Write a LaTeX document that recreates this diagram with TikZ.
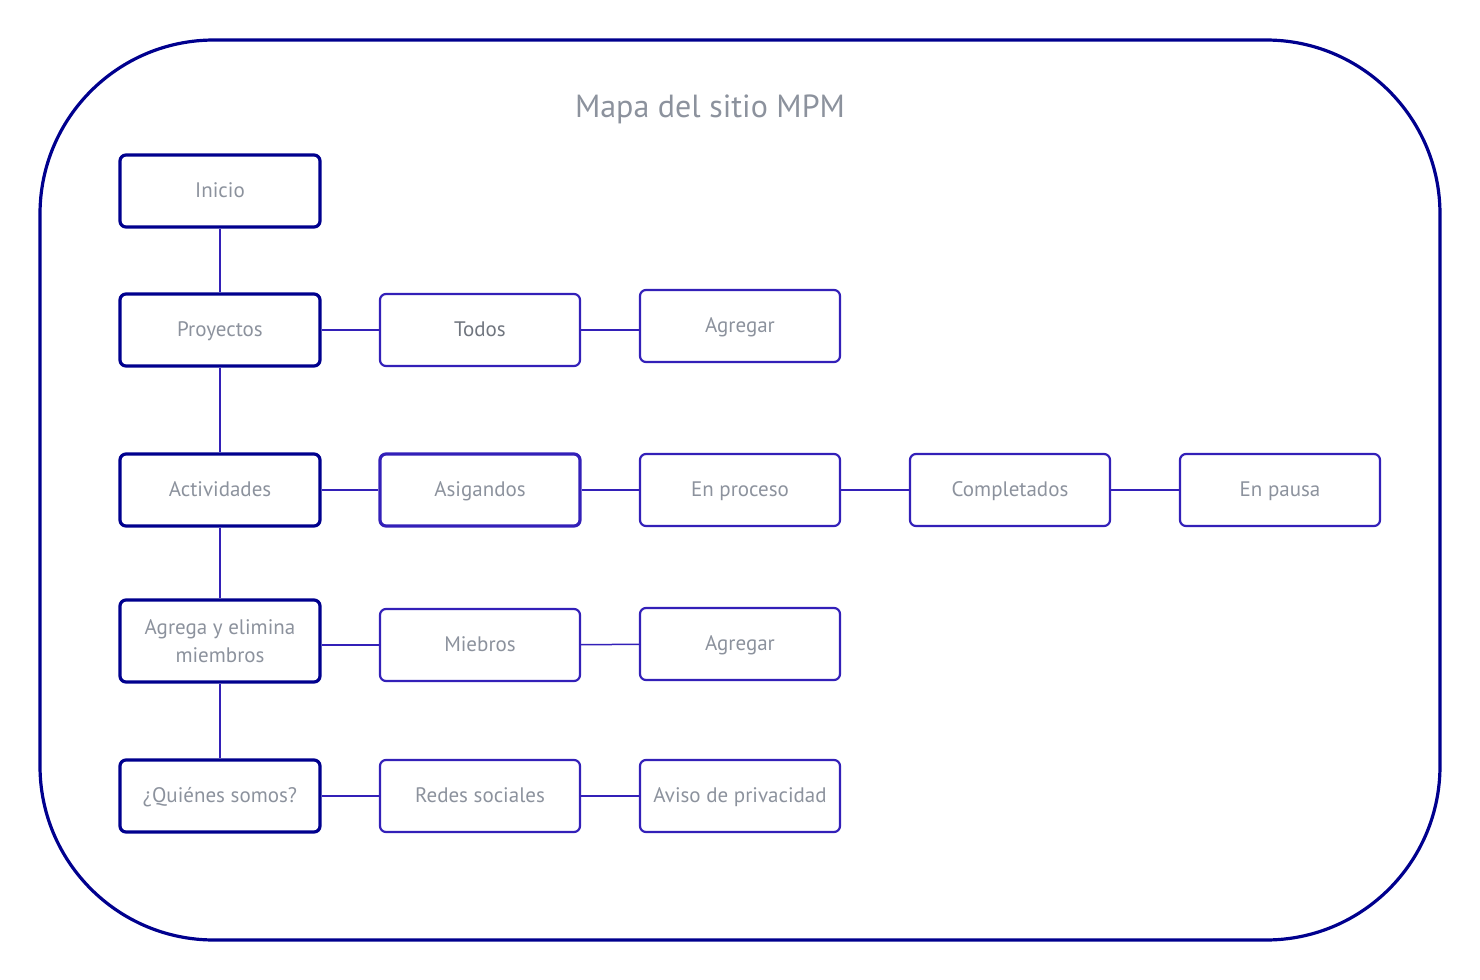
\documentclass[tikz,border=0pt]{standalone}
\usepackage{fontspec}
\setmainfont{PT Sans}
\usepackage{xcolor}
\definecolor{navy}{HTML}{00008E}
\definecolor{indigo}{HTML}{3320B8}
\definecolor{txtgray}{HTML}{8C929D}

\begin{document}
\begin{tikzpicture}[x=0.5pt,y=-0.5pt,
	mainbox/.style={draw=navy, line width=1.6pt, rounded corners=3pt, minimum width=100pt, minimum height=36pt, inner sep=2pt, text=txtgray, align=center, text height=1.6ex, text depth=.3ex, font=\fontsize{10.5}{14}\selectfont},
	subbox/.style={mainbox, draw=indigo, line width=1.1pt},
	link/.style={draw=indigo, line width=0.75pt}]
	\useasboundingbox (0,0) rectangle (1480,980);
	\draw[navy, line width=1.6pt, rounded corners=87pt] (40,40) rectangle (1440,940);
	\node[text=txtgray, font=\fontsize{16}{18}\selectfont] (title) at (710,109) {Mapa del sitio MPM};
	% main column
	\node[mainbox] (inicio) at (220,191) {Inicio};
	\node[mainbox] (proy) at (220,330) {Proyectos};
	\node[mainbox] (activ) at (220,490) {Actividades};
	\node[mainbox, minimum height=41pt, text height=, text depth=] (miem) at (220,641) {Agrega y elimina\\miembros};
	\node[mainbox] (quien) at (220,796) {¿Quiénes somos?};
	% branches
	\node[subbox, text=txtgray!80!black] (todos) at (480,330) {Todos};
	\node[subbox] (agregarA) at (740,326) {Agregar};
	\node[subbox, line width=1.6pt] (asig) at (480,490) {Asigandos};
	\node[subbox] (proceso) at (740,490) {En proceso};
	\node[subbox] (compl) at (1010,490) {Completados};
	\node[subbox] (pausa) at (1280,490) {En pausa};
	\node[subbox] (miebros) at (480,645) {Miebros};
	\node[subbox] (agregarB) at (740,644) {Agregar};
	\node[subbox] (redes) at (480,796) {Redes sociales};
	\node[subbox] (aviso) at (740,796) {Aviso de privacidad};
	% connectors
	\draw[link] (inicio) -- (proy);
	\draw[link] (proy) -- (activ);
	\draw[link] (activ) -- (miem);
	\draw[link] (miem) -- (quien);
	\draw[link] (proy) -- (todos);
	\draw[link] (todos) -- (agregarA.west |- todos);
	\draw[link] (activ) -- (asig);
	\draw[link] (asig) -- (proceso);
	\draw[link] (proceso) -- (compl);
	\draw[link] (compl) -- (pausa);
	\draw[link] (miem.east |- miebros) -- (miebros);
	\draw[link] (miebros) -- (agregarB);
	\draw[link] (quien) -- (redes);
	\draw[link] (redes) -- (aviso);
\end{tikzpicture}
\end{document}
